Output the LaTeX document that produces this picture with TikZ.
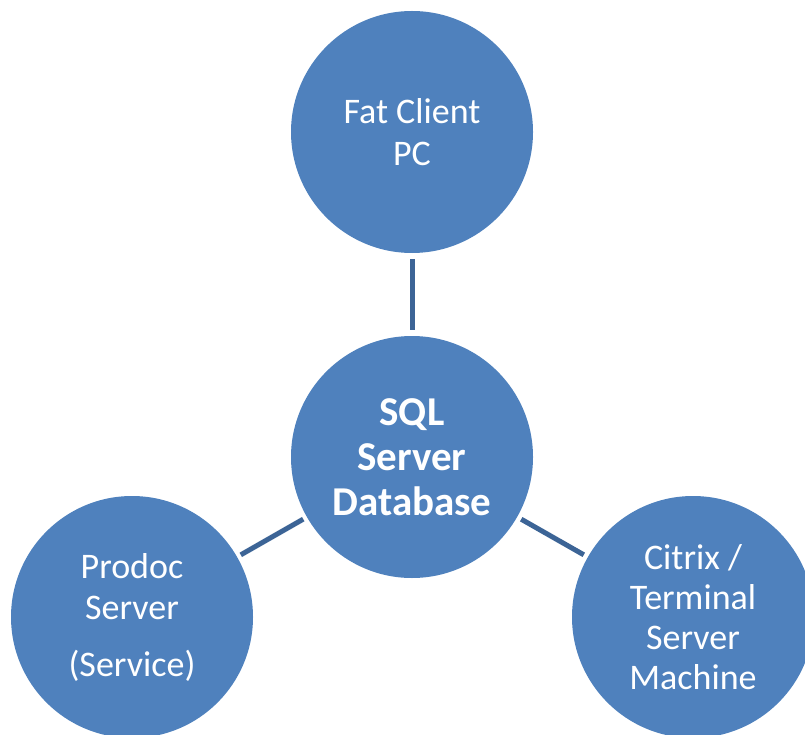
\documentclass[tikz,border=0pt]{standalone}
\usepackage{fontspec}
\setmainfont{Carlito}
\usetikzlibrary{calc}
\definecolor{cfill}{HTML}{4F81BD}
\definecolor{cline}{HTML}{3C6496}
\begin{document}
\begin{tikzpicture}[x=1pt,y=-1pt,
  bubble/.style={circle, fill=cfill, draw=none, minimum size=242pt, inner sep=0pt,
    text=white, align=center, font=\fontsize{36}{42}\selectfont},
  hub/.style={bubble, font=\fontsize{41}{45}\selectfont\bfseries},
  link/.style={draw=cline, line width=5pt}]
\useasboundingbox (0,0) rectangle (805,735);
\node[hub] (sql) at (412,457) {SQL\\Server\\Database};
\node[bubble] (fat) at (412,132) {Fat Client\\PC};
\node[bubble] (prodoc) at (132,617) {Prodoc\\[-1pt]Server\\[15pt](Service)};
\node[bubble] (citrix) at (693,617) {Citrix /\\[-2pt]Terminal\\[-2pt]Server\\[-2pt]Machine};
\draw[link] ([yshift=-6pt]fat.south) -- ([yshift=6pt]sql.north);
\draw[link] ($(sql)!0.5!(prodoc)!36pt!(sql)$) -- ($(sql)!0.5!(prodoc)!36pt!(prodoc)$);
\draw[link] ($(sql)!0.5!(citrix)!36pt!(sql)$) -- ($(sql)!0.5!(citrix)!36pt!(citrix)$);
\end{tikzpicture}
\end{document}
